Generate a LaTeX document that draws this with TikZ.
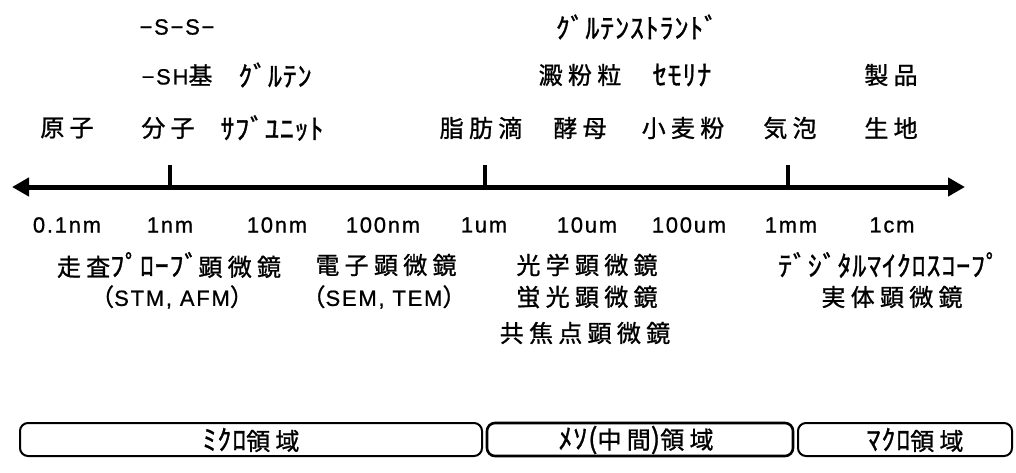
\documentclass[tikz,border=0pt]{standalone}
\usepackage{fontspec}
\usetikzlibrary{arrows.meta}
\newfontfamily\jpfull[LetterSpace=22,FakeBold=1]{Noto Sans CJK JP}
\newfontfamily\jphalf[LetterSpace=3,FakeBold=1]{Noto Sans CJK JP}
\newfontfamily\latsans[LetterSpace=8,FakeBold=0.8]{Liberation Sans}
\newcommand\JF[1]{{\jpfull\fontsize{24}{28}\selectfont #1}}
\newcommand\JH[1]{{\jphalf\fontsize{28}{30}\selectfont #1}}
\newcommand\LT[1]{{\latsans\fontsize{22}{24}\selectfont #1}}
\tikzset{
  lbl/.style={inner sep=0pt, anchor=center, font=\fontsize{24}{28}\selectfont},
  axisline/.style={line width=5pt, {Triangle[length=17pt,width=18pt]}-{Triangle[length=17pt,width=18pt]}},
  tickline/.style={line width=4.5pt},
  region/.style={draw, line width=2pt, rounded corners=8pt, inner sep=0pt, minimum height=33pt},
}
\begin{document}
\begin{tikzpicture}[x=1pt,y=-1pt]
\useasboundingbox (0,0) rectangle (1016,473);
% top rows
\node[lbl] (ss) at (177,27) {\LT{−S−S−}};
\node[lbl] (gs) at (637,27) {\JH{ｸﾞﾙﾃﾝｽﾄﾗﾝﾄﾞ}};
\node[lbl] (sh) at (177,75) {\LT{−SH}\JF{基}};
\node[lbl] (gl) at (275,75) {\JH{ｸﾞﾙﾃﾝ}};
\node[lbl] (st) at (580,75) {\JF{澱粉粒}};
\node[lbl] (se) at (682,75) {\JH{ｾﾓﾘﾅ}};
\node[lbl] (sei) at (891,75) {\JF{製品}};
\node[lbl] (gen) at (67,128) {\JF{原子}};
\node[lbl] (bun) at (168,128) {\JF{分子}};
\node[lbl] (sub) at (272,128) {\JH{ｻﾌﾞﾕﾆｯﾄ}};
\node[lbl] (shi) at (481,128) {\JF{脂肪滴}};
\node[lbl] (kou) at (580,128) {\JF{酵母}};
\node[lbl] (kom) at (683,128) {\JF{小麦粉}};
\node[lbl] (kih) at (790,128) {\JF{気泡}};
\node[lbl] (kij) at (891,128) {\JF{生地}};
% axis
\coordinate (axL) at (12,187);
\coordinate (axR) at (965,187);
\draw[axisline] (axL) -- (axR);
\coordinate (t1a) at (170,165); \coordinate (t1b) at (170,187);
\coordinate (t2a) at (485,165); \coordinate (t2b) at (485,187);
\coordinate (t3a) at (788,165); \coordinate (t3b) at (788,187);
\draw[tickline] (t1a) -- (t1b);
\draw[tickline] (t2a) -- (t2b);
\draw[tickline] (t3a) -- (t3b);
% scale
\node[lbl] (s1) at (67,225) {\LT{0.1nm}};
\node[lbl] (s2) at (170,225) {\LT{1nm}};
\node[lbl] (s3) at (277,225) {\LT{10nm}};
\node[lbl] (s4) at (383,225) {\LT{100nm}};
\node[lbl] (s5) at (484,225) {\LT{1um}};
\node[lbl] (s6) at (587,225) {\LT{10um}};
\node[lbl] (s7) at (689,225) {\LT{100um}};
\node[lbl] (s8) at (791,225) {\LT{1mm}};
\node[lbl] (s9) at (892,225) {\LT{1cm}};
% microscopes
\node[lbl] (m1) at (169,265) {\JF{走査}\JH{ﾌﾟﾛｰﾌﾞ}\JF{顕微鏡}};
\node[lbl] (m2) at (386,265) {\JF{電子顕微鏡}};
\node[lbl] (m3) at (587,265) {\JF{光学顕微鏡}};
\node[lbl] (m4) at (889,265) {\JH{ﾃﾞｼﾞﾀﾙﾏｲｸﾛｽｺｰﾌﾟ}};
\node[lbl] (m5) at (172,297) {\JF{（}\LT{STM, AFM}\JF{）}};
\node[lbl] (m6) at (384,297) {\JF{（}\LT{SEM, TEM}\JF{）}};
\node[lbl] (m7) at (587,297) {\JF{蛍光顕微鏡}};
\node[lbl] (m8) at (892,297) {\JF{実体顕微鏡}};
\node[lbl] (m9) at (585,333) {\JF{共焦点顕微鏡}};
% regions
\node[region, minimum width=462pt] (b1) at (251,439.5) {};
\node[region, minimum width=306pt, line width=2.6pt] (b2) at (640,439.5) {};
\node[region, minimum width=214pt] (b3) at (905,439.5) {};
\node[lbl] (bt1) at (251,440) {\JH{ﾐｸﾛ}\JF{領域}};
\node[lbl] (bt2) at (636,440) {\JH{ﾒｿ(}\JF{中間}\JH{)}\JF{領域}};
\node[lbl] (bt3) at (915,440) {\JH{ﾏｸﾛ}\JF{領域}};
\end{tikzpicture}
\end{document}
